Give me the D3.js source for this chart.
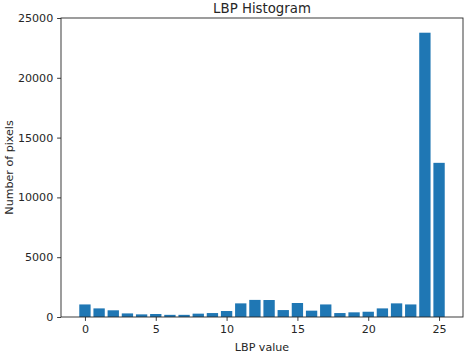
<!DOCTYPE html>
<html><head><meta charset="utf-8">
<script src="https://cdn.jsdelivr.net/npm/d3@7"></script>
<style>body{margin:0;background:#fff}svg{display:block}text{font-family:"DejaVu Sans",sans-serif}</style>
</head><body><svg id="c" width="465" height="358"></svg>
<script>
const categories = d3.range(0, 26);
const counts = [1050, 720, 560, 300, 220, 250, 180, 180, 280, 330, 500, 1140, 1430, 1420, 580, 1170, 530, 1050, 330, 390, 440, 720, 1140, 1050, 23770, 12890];
const xTicks = [0, 5, 10, 15, 20, 25];
const yTicks = [0, 5000, 10000, 15000, 20000, 25000];

const svg = d3.select("#c");
const L = 61, R = 463, T = 18, B = 317;
const x = d3.scaleLinear().domain([-1.69, 26.69]).range([L, R]);
const y = d3.scaleLinear().domain([0, 25000]).range([B, T]);

svg.append("g").selectAll("rect").data(categories).join("rect")
  .attr("x", d => x(d - 0.4)).attr("width", d => x(d + 0.4) - x(d - 0.4))
  .attr("y", (d, i) => y(counts[i])).attr("height", (d, i) => y(0) - y(counts[i]))
  .attr("fill", "#1f77b4");

const gx = svg.append("g").attr("transform", `translate(0,${B})`)
  .call(d3.axisBottom(x).tickValues(xTicks).tickFormat(d3.format("d")).tickSize(3.9).tickPadding(3.9));
const gy = svg.append("g").attr("transform", `translate(${L},0)`)
  .call(d3.axisLeft(y).tickValues(yTicks).tickFormat(d3.format("d")).tickSize(3.9).tickPadding(3.9));
[gx, gy].forEach(g => {
  g.select(".domain").remove();
  g.selectAll("text").attr("font-size", 11.1).attr("fill", "#262626").style("font-family", "DejaVu Sans");
  g.selectAll("line").attr("stroke", "#262626").attr("stroke-width", 0.9);
});
svg.append("rect").attr("x", L).attr("y", T).attr("width", R - L).attr("height", B - T)
  .attr("fill", "none").attr("stroke", "#262626").attr("stroke-width", 0.9);

svg.append("text").attr("x", (L + R) / 2).attr("y", 13).attr("text-anchor", "middle")
  .attr("font-size", 13.3).attr("fill", "#262626").text("LBP Histogram");
svg.append("text").attr("x", (L + R) / 2).attr("y", 351).attr("text-anchor", "middle")
  .attr("font-size", 11.1).attr("fill", "#262626").text("LBP value");
svg.append("text").attr("transform", `translate(12.5,${(T + B) / 2}) rotate(-90)`).attr("text-anchor", "middle")
  .attr("font-size", 11.1).attr("fill", "#262626").text("Number of pixels");
</script></body></html>
